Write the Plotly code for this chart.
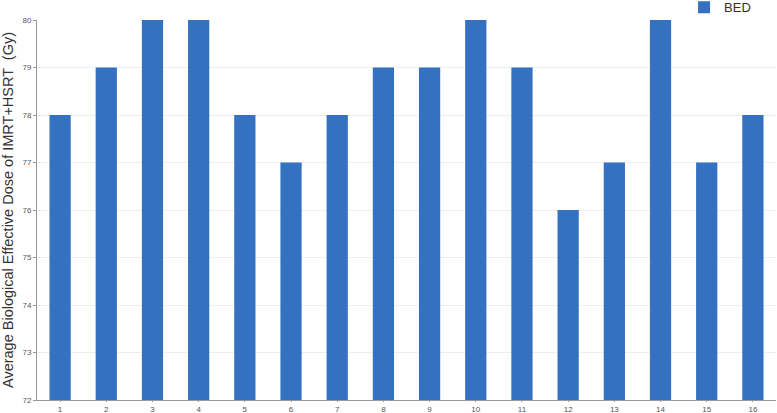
import plotly.graph_objects as go

categories = [str(i) for i in range(1, 17)]
bed = [78, 79, 80, 80, 78, 77, 78, 79, 79, 80, 79, 76, 77, 80, 77, 78]

fig = go.Figure()
fig.add_trace(go.Bar(x=categories, y=bed, name="BED", marker_color="#3571C1",
                     marker_line_width=0))
fig.update_layout(
    width=777, height=413,
    margin=dict(l=37, r=1, t=20, b=13, autoexpand=False),
    plot_bgcolor="white", paper_bgcolor="white",
    bargap=0.54,
    showlegend=True,
    legend=dict(x=0.973, y=1.073, xanchor="right", yanchor="top",
                font=dict(family="Arial, Liberation Sans", size=13, color="#333"),
                itemwidth=30, bgcolor="rgba(0,0,0,0)"),
    font=dict(family="Arial, Liberation Sans"),
)
fig.update_xaxes(type="category", showline=True, linecolor="#999", linewidth=1,
                 ticks="outside", ticklen=1, tickcolor="#999",
                 tickfont=dict(size=8, color="#555"), showgrid=False)
fig.update_yaxes(range=[72, 80], dtick=1, showline=True, linecolor="#999", linewidth=1,
                 ticks="outside", ticklen=3, tickcolor="#999",
                 tickfont=dict(size=8, color="#555"),
                 gridcolor="#eeeeee", zeroline=False,
                 title=dict(text="Average Biological Effective Dose of IMRT+HSRT  (Gy)",
                            font=dict(size=14.5, color="#333"), standoff=5))
fig.write_html("out.html", config={"displayModeBar": False},
               post_script="document.body.style.margin='0';")
